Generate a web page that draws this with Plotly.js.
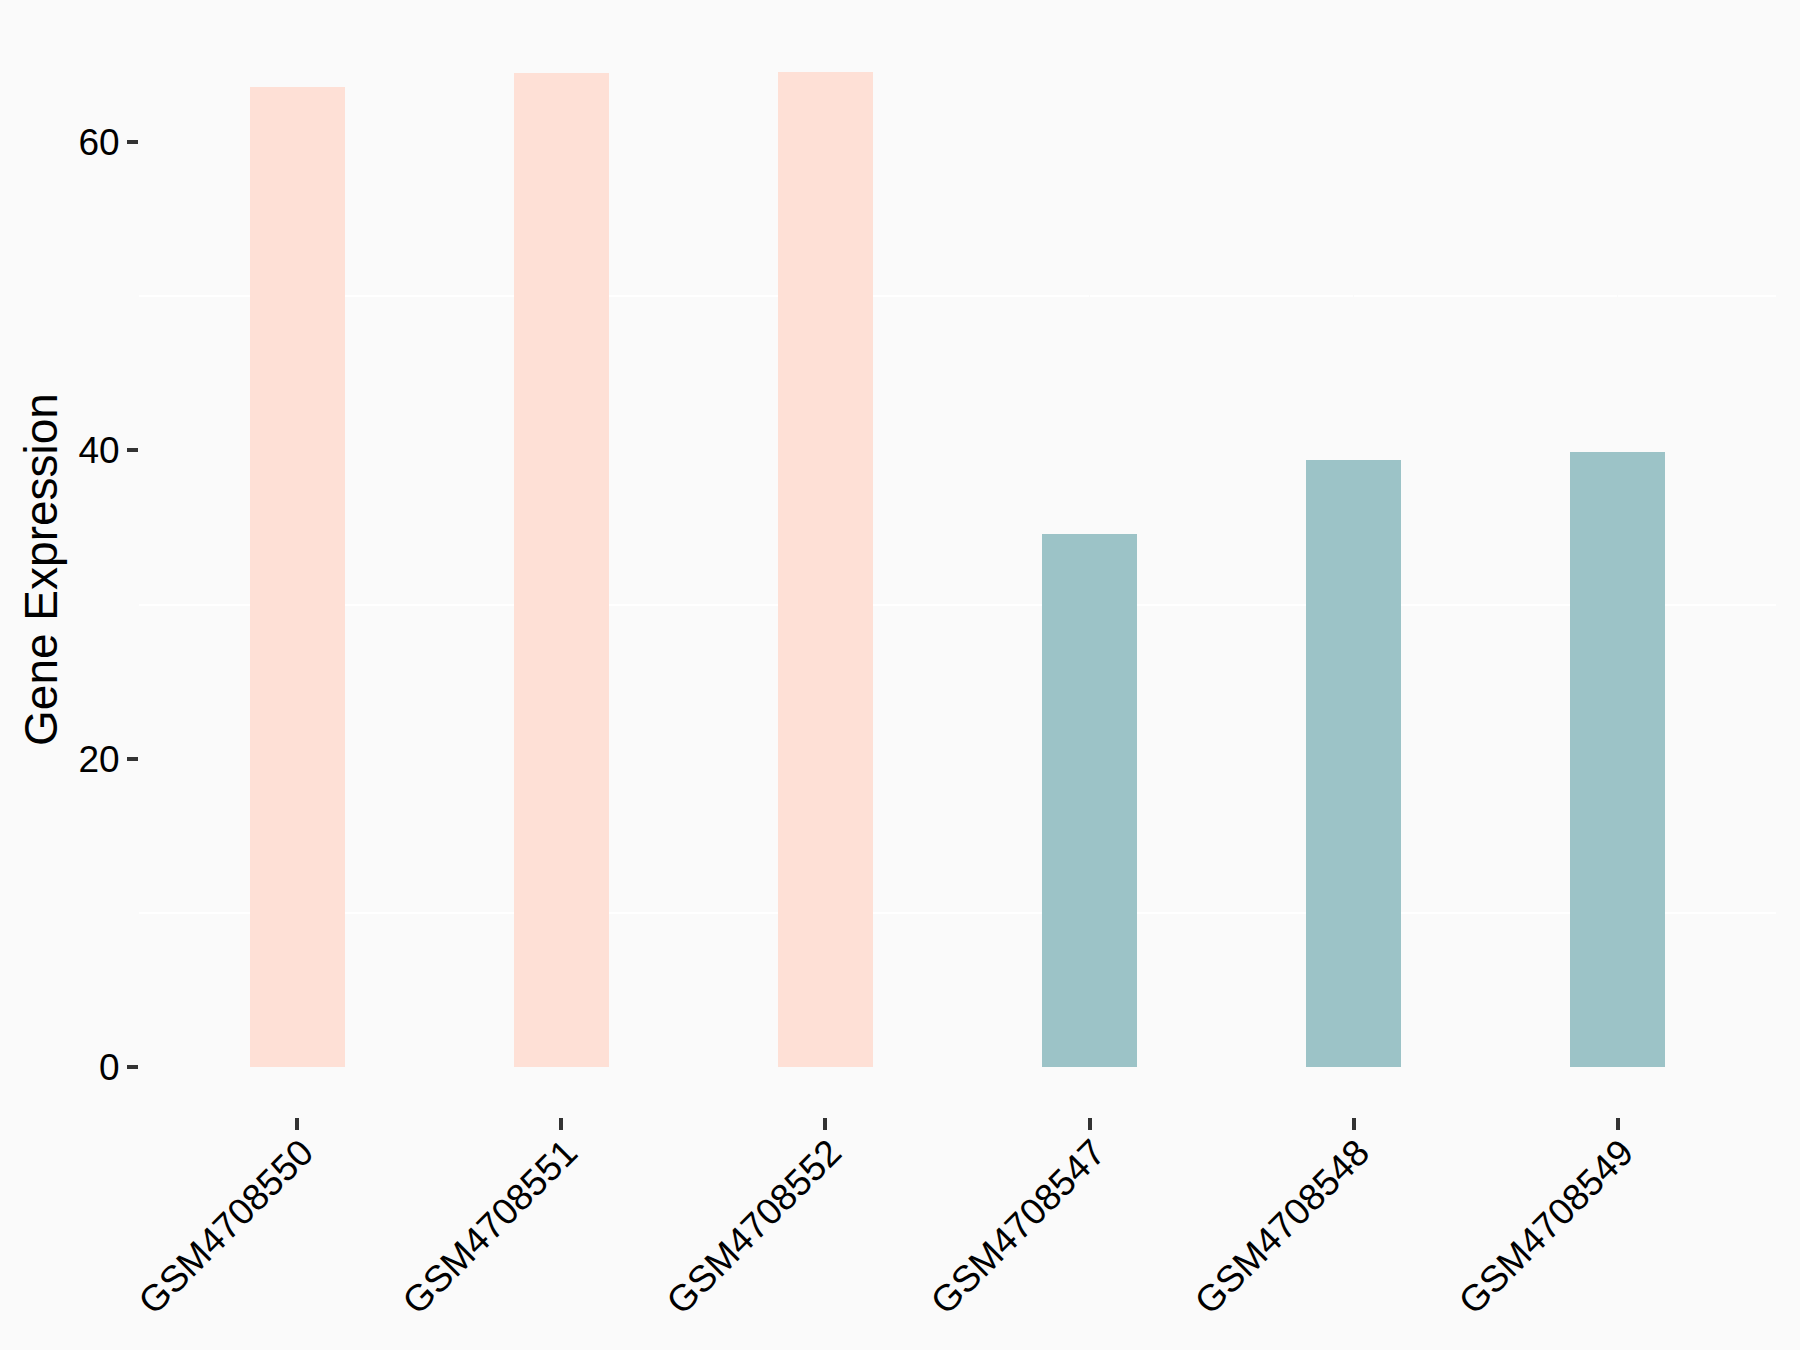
<!DOCTYPE html>
<html>
<head>
<meta charset="utf-8">
<script src="https://cdn.plot.ly/plotly-3.0.1.min.js"></script>
<style>html,body{margin:0;padding:0;background:#FAFAFA;}</style>
</head>
<body>
<div id="chart" style="width:1800px;height:1350px;"></div>
<script>
const samples = ["GSM4708550","GSM4708551","GSM4708552","GSM4708547","GSM4708548","GSM4708549"];
const expression = [63.6, 64.5, 64.56, 34.6, 39.4, 39.93];
const groups = ["A","A","A","B","B","B"];
const groupColors = {A: "#FEE0D6", B: "#9CC3C7"};
const yTickVals = [0, 20, 40, 60];

const trace = {
  type: "bar",
  x: samples,
  y: expression,
  width: samples.map(() => 0.36),
  marker: {color: groups.map(g => groupColors[g]), line: {width: 0}},
  hoverinfo: "x+y",
  showlegend: false
};

const maxV = Math.max(...expression);
const pad = maxV * 0.05;
// minor gridlines halfway between major ticks
const minorVals = yTickVals.slice(0, -1).map((v, i) => (v + yTickVals[i + 1]) / 2);

const layout = {
  width: 1800,
  height: 1350,
  paper_bgcolor: "#FAFAFA",
  plot_bgcolor: "#FAFAFA",
  margin: {l: 139, r: 24, t: 22, b: 232.5, pad: 0},
  font: {family: "Liberation Sans, Arial, sans-serif", color: "#000000"},
  xaxis: {
    type: "category",
    range: [-0.6, samples.length - 0.4],
    tickangle: -45,
    ticks: "outside",
    ticklen: 12,
    tickwidth: 4,
    tickcolor: "#333333",
    tickfont: {size: 37, color: "#000000"},
    ticklabelstandoff: -14,
    ticklabelshift: 5,
    showgrid: true,
    gridcolor: "#FAFAFA",
    gridwidth: 1,
    showline: false,
    zeroline: false,
    automargin: false
  },
  yaxis: {
    range: [-pad, maxV + pad],
    tickvals: yTickVals,
    ticktext: yTickVals.map(String),
    ticks: "outside",
    ticklen: 11,
    tickwidth: 4,
    tickcolor: "#333333",
    tickfont: {size: 37, color: "#000000"},
    showgrid: false,
    zeroline: false,
    showline: false,
    minor: {tickvals: minorVals, showgrid: true, gridcolor: "#FFFFFF", gridwidth: 2, ticks: ""},
    title: {text: "Gene Expression", font: {size: 46, color: "#000000"}, standoff: 6},
    automargin: false
  },
  bargap: 0
};

Plotly.newPlot("chart", [trace], layout, {displayModeBar: false, staticPlot: true});
</script>
</body>
</html>
